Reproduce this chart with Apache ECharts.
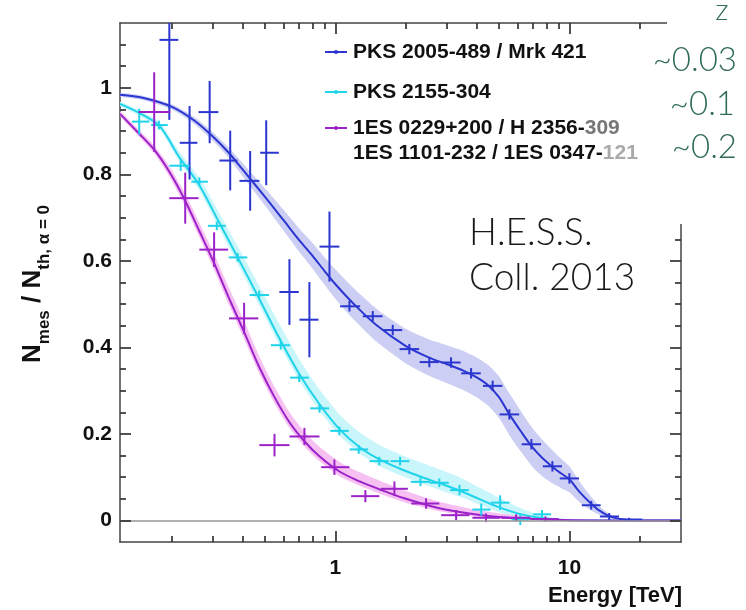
<!DOCTYPE html>
<html>
<head>
<meta charset="utf-8">
<script src="https://cdn.jsdelivr.net/npm/echarts@6/dist/echarts.min.js"></script>
<style>
  html, body { margin: 0; padding: 0; background: #fff; }
  #chart { width: 746px; height: 610px; }
</style>
</head>
<body>
<div id="chart"></div>
<script>
// axis ranges and ticks
const X_MIN = 0.12, X_MAX = 30;
const Y_MIN = -0.05, Y_MAX = 1.15;
const xMajor = [1, 10];
const xMinor = [0.2, 0.3, 0.4, 0.5, 0.6, 0.7, 0.8, 0.9, 2, 3, 4, 5, 6, 7, 8, 9, 20];
const yMajor = [0, 0.2, 0.4, 0.6, 0.8, 1];
const yMinor = [0.05, 0.1, 0.15, 0.25, 0.3, 0.35, 0.45, 0.5, 0.55, 0.65, 0.7, 0.75,
                0.85, 0.9, 0.95, 1.05, 1.1];

// measured points: [E, value, E low, E high, +/- error]
const blueObs = [
  [0.195, 1.111, 0.177, 0.213, 0.185],
  [0.238, 0.873, 0.216, 0.257, 0.085],
  [0.29, 0.944, 0.26, 0.316, 0.072],
  [0.355, 0.832, 0.319, 0.381, 0.069],
  [0.432, 0.785, 0.389, 0.473, 0.069],
  [0.506, 0.85, 0.477, 0.573, 0.075],
  [0.636, 0.528, 0.576, 0.697, 0.076],
  [0.774, 0.464, 0.702, 0.846, 0.087],
  [0.943, 0.633, 0.855, 1.04, 0.081],
  [1.148, 0.495, 1.047, 1.275, 0.012],
  [1.444, 0.472, 1.31, 1.59, 0.012],
  [1.758, 0.44, 1.6, 1.93, 0.012],
  [2.07, 0.396, 1.88, 2.28, 0.012],
  [2.52, 0.366, 2.29, 2.77, 0.012],
  [3.12, 0.365, 2.83, 3.43, 0.012],
  [3.8, 0.34, 3.45, 4.18, 0.012],
  [4.7, 0.311, 4.27, 5.17, 0.012],
  [5.54, 0.245, 5.03, 6.1, 0.012],
  [6.88, 0.176, 6.25, 7.57, 0.012],
  [8.46, 0.125, 7.7, 9.3, 0.012],
  [10.0, 0.097, 9.1, 11.0, 0.012],
  [12.4, 0.035, 11.3, 13.6, 0.01],
  [14.8, 0.009, 13.5, 16.3, 0.008],
  [18.0, 0.002, 16.3, 20.5, 0.004]
];
const cyanObs = [
  [0.145, 0.922, 0.135, 0.16, 0.03],
  [0.176, 0.914, 0.163, 0.192, 0.01],
  [0.218, 0.82, 0.195, 0.238, 0.012],
  [0.262, 0.783, 0.242, 0.285, 0.01],
  [0.311, 0.681, 0.285, 0.34, 0.01],
  [0.382, 0.608, 0.35, 0.42, 0.01],
  [0.472, 0.521, 0.43, 0.52, 0.01],
  [0.584, 0.405, 0.53, 0.64, 0.01],
  [0.70, 0.330, 0.64, 0.77, 0.01],
  [0.855, 0.259, 0.78, 0.94, 0.01],
  [1.04, 0.207, 0.95, 1.14, 0.01],
  [1.258, 0.164, 1.15, 1.38, 0.01],
  [1.54, 0.137, 1.40, 1.69, 0.01],
  [1.89, 0.137, 1.72, 2.07, 0.01],
  [2.31, 0.089, 2.1, 2.54, 0.01],
  [2.78, 0.087, 2.53, 3.05, 0.01],
  [3.39, 0.070, 3.09, 3.72, 0.012],
  [4.2, 0.025, 3.85, 4.6, 0.014],
  [5.06, 0.041, 4.62, 5.55, 0.017],
  [6.17, 0.002, 5.65, 6.75, 0.013],
  [7.64, 0.014, 7.0, 8.35, 0.01]
];
const purpleObs = [
  [0.168, 0.944, 0.144, 0.197, 0.092],
  [0.228, 0.745, 0.195, 0.26, 0.059],
  [0.303, 0.626, 0.262, 0.348, 0.04],
  [0.407, 0.467, 0.351, 0.468, 0.036],
  [0.549, 0.174, 0.473, 0.636, 0.026],
  [0.737, 0.194, 0.636, 0.855, 0.02],
  [0.99, 0.123, 0.869, 1.148, 0.018],
  [1.343, 0.056, 1.167, 1.54, 0.014],
  [1.787, 0.073, 1.567, 2.04, 0.017],
  [2.44, 0.039, 2.11, 2.78, 0.012],
  [3.28, 0.012, 2.83, 3.74, 0.012],
  [4.4, 0.006, 3.85, 5.05, 0.01],
  [5.92, 0.006, 5.12, 6.8, 0.008],
  [7.9, 0.003, 6.9, 9.0, 0.006]
];

// model curves: [E, value, band low, band high]
const blueFit = [
  [0.12, 0.984, 0.980, 0.988], [0.15, 0.977, 0.972, 0.982], [0.2, 0.956, 0.950, 0.962],
  [0.25, 0.924, 0.916, 0.932], [0.3, 0.887, 0.877, 0.897], [0.35, 0.85, 0.838, 0.862],
  [0.4, 0.812, 0.797, 0.827], [0.5, 0.748, 0.728, 0.768], [0.6, 0.694, 0.67, 0.718],
  [0.7, 0.648, 0.621, 0.675], [0.8, 0.611, 0.581, 0.641], [0.9, 0.576, 0.544, 0.608],
  [1.0, 0.546, 0.512, 0.58], [1.2, 0.5, 0.464, 0.536], [1.5, 0.451, 0.413, 0.489],
  [2.0, 0.403, 0.363, 0.443], [2.5, 0.377, 0.335, 0.419], [3.0, 0.361, 0.317, 0.405],
  [3.5, 0.347, 0.302, 0.392], [4.0, 0.331, 0.285, 0.377], [4.5, 0.312, 0.265, 0.359],
  [5.0, 0.285, 0.237, 0.333], [5.5, 0.248, 0.2, 0.296], [6.2, 0.206, 0.159, 0.253],
  [6.9, 0.171, 0.126, 0.216], [7.7, 0.143, 0.101, 0.185], [8.5, 0.123, 0.085, 0.161],
  [9.2, 0.109, 0.075, 0.143], [10, 0.095, 0.065, 0.125], [11, 0.067, 0.043, 0.091],
  [12.2, 0.042, 0.025, 0.059], [13.4, 0.023, 0.013, 0.033], [14.8, 0.010, 0.005, 0.015],
  [16.4, 0.0035, 0.0015, 0.0055], [18, 0.001, 0, 0.002], [20, 0, 0, 0.0005], [30, 0, 0, 0]
];
const cyanFit = [
  [0.12, 0.963, 0.958, 0.968], [0.145, 0.942, 0.936, 0.948], [0.177, 0.912, 0.904, 0.921],
  [0.215, 0.84, 0.83, 0.853], [0.262, 0.775, 0.763, 0.792], [0.319, 0.688, 0.674, 0.71],
  [0.389, 0.6, 0.585, 0.626], [0.473, 0.512, 0.497, 0.542], [0.576, 0.421, 0.406, 0.454],
  [0.702, 0.338, 0.323, 0.372], [0.854, 0.269, 0.254, 0.303], [1.04, 0.211, 0.196, 0.245],
  [1.27, 0.169, 0.154, 0.203], [1.54, 0.141, 0.126, 0.174], [1.88, 0.12, 0.105, 0.153],
  [2.29, 0.102, 0.087, 0.135], [2.78, 0.086, 0.071, 0.118], [3.39, 0.069, 0.055, 0.1],
  [4.13, 0.049, 0.036, 0.076], [5.02, 0.03, 0.019, 0.052], [6.11, 0.015, 0.008, 0.03],
  [7.44, 0.006, 0.002, 0.013], [9.07, 0.0016, 0, 0.004], [11, 0, 0, 0.001], [30, 0, 0, 0]
];
const purpleFit = [
  [0.12, 0.94, 0.935, 0.946], [0.145, 0.894, 0.887, 0.902], [0.168, 0.857, 0.848, 0.867],
  [0.195, 0.806, 0.795, 0.819], [0.226, 0.743, 0.73, 0.759], [0.262, 0.669, 0.655, 0.688],
  [0.304, 0.593, 0.578, 0.615], [0.352, 0.512, 0.496, 0.536], [0.409, 0.433, 0.417, 0.458],
  [0.473, 0.354, 0.339, 0.379], [0.549, 0.285, 0.271, 0.309], [0.636, 0.227, 0.214, 0.25],
  [0.737, 0.183, 0.171, 0.205], [0.854, 0.148, 0.137, 0.17], [1.04, 0.113, 0.102, 0.135],
  [1.27, 0.09, 0.08, 0.111], [1.54, 0.072, 0.062, 0.092], [1.97, 0.051, 0.042, 0.069],
  [2.78, 0.028, 0.021, 0.043], [3.93, 0.014, 0.009, 0.025], [5.54, 0.006, 0.003, 0.013],
  [8.21, 0.0016, 0, 0.005], [13.4, 0, 0, 0.001], [30, 0, 0, 0]
];

const sources = [
  {name: 'PKS 2005-489 / Mrk 421', obs: blueObs, fit: blueFit, line: '#2a36cf', band: '#c6c9f3'},
  {name: 'PKS 2155-304', obs: cyanObs, fit: cyanFit, line: '#1fd3ea', band: '#c3f5fa'},
  {name: '1ES 0229+200 / H 2356-309', obs: purpleObs, fit: purpleFit, line: '#9b22c8', band: '#f6b9f2'}
];

const GRID = {left: 120, top: 23, width: 561, height: 519};
const chart = echarts.init(document.getElementById('chart'), null, {renderer: 'canvas'});
const axisColor = '#444';
const labelFont = {color: '#111', fontSize: 21, fontWeight: 'bold', fontFamily: 'Liberation Sans'};

function xAx(pos, showLabel) {
  return {
    type: 'log', logBase: 10, min: X_MIN, max: X_MAX, position: pos,
    axisLine: {show: true, onZero: false, lineStyle: {color: axisColor, width: 1.5}},
    axisTick: {show: false},
    axisLabel: Object.assign({show: showLabel, customValues: xMajor, margin: 16}, labelFont),
    splitLine: {show: false}
  };
}
function yAx(pos, showLabel) {
  return {
    type: 'value', min: Y_MIN, max: Y_MAX, position: pos,
    axisLine: {show: true, onZero: false, lineStyle: {color: axisColor, width: 1.5}},
    axisTick: {show: false},
    axisLabel: Object.assign({show: showLabel, customValues: yMajor, margin: 8}, labelFont),
    splitLine: {show: false}
  };
}

// inside frame ticks as markLine segments (tick length converted from pixels to axis units)
const pxPerDecade = GRID.width / Math.log10(X_MAX / X_MIN);
const pxPerUnit = GRID.height / (Y_MAX - Y_MIN);
const tickSegs = [];
xMajor.map(function (v) { return [v, 11]; }).concat(xMinor.map(function (v) { return [v, 6]; }))
  .forEach(function (t) {
    const dy = t[1] / pxPerUnit;
    tickSegs.push([{coord: [t[0], Y_MIN]}, {coord: [t[0], Y_MIN + dy]}]);
    tickSegs.push([{coord: [t[0], Y_MAX]}, {coord: [t[0], Y_MAX - dy]}]);
  });
yMajor.map(function (v) { return [v, 11]; }).concat(yMinor.map(function (v) { return [v, 6]; }))
  .forEach(function (t) {
    const f = Math.pow(10, t[1] / pxPerDecade);
    tickSegs.push([{coord: [X_MIN, t[0]]}, {coord: [X_MIN * f, t[0]]}]);
    tickSegs.push([{coord: [X_MAX, t[0]]}, {coord: [X_MAX / f, t[0]]}]);
  });

const series = [];
sources.forEach(function (s, k) {
  // uncertainty band
  series.push({
    type: 'custom', name: s.name + ' band', z: 1, clip: true, silent: true,
    data: [[1, 0.5]],
    encode: {x: 0, y: 1},
    renderItem: function (params, api) {
      const pts = [];
      s.fit.forEach(function (r) { pts.push(api.coord([r[0], r[3]])); });
      s.fit.slice().reverse().forEach(function (r) { pts.push(api.coord([r[0], r[2]])); });
      return {type: 'polygon', shape: {points: pts, smooth: 0.2}, style: {fill: s.band, opacity: 0.9}};
    },
    markLine: k === 0 ? {
      silent: true, symbol: 'none', label: {show: false}, animation: false,
      lineStyle: {color: '#999', width: 1.5, type: 'solid'},
      data: [{yAxis: 0}]
    } : undefined
  });
});
sources.forEach(function (s, k) {
  series.push({
    type: 'line', name: s.name, z: 2, smooth: 0.3, showSymbol: false, silent: true,
    data: s.fit.map(function (r) { return [r[0], r[1]]; }),
    lineStyle: {color: s.line, width: 2},
    markLine: k === 2 ? {
      silent: true, symbol: 'none', label: {show: false}, animation: false,
      lineStyle: {color: '#333', width: 1.7, type: 'solid'},
      emphasis: {disabled: true},
      data: tickSegs
    } : undefined
  });
});
sources.forEach(function (s) {
  series.push({
    type: 'custom', name: s.name + ' points', z: 3, clip: true, silent: true,
    data: s.obs,
    encode: {x: 0, y: 1},
    renderItem: function (params, api) {
      const e = api.value(0), v = api.value(1), lo = api.value(2), hi = api.value(3), dv = api.value(4);
      const l = api.coord([lo, v]), r = api.coord([hi, v]);
      const t = api.coord([e, v + dv]), b = api.coord([e, v - dv]);
      const st = {stroke: s.line, lineWidth: 2};
      return {type: 'group', children: [
        {type: 'line', shape: {x1: l[0], y1: l[1], x2: r[0], y2: r[1]}, style: st},
        {type: 'line', shape: {x1: t[0], y1: t[1], x2: b[0], y2: b[1]}, style: st}
      ]};
    }
  });
});

// legend drawn as graphics
const legendRows = [
  {y: 52, color: sources[0].line, text: '{b|PKS 2005-489 / Mrk 421}'},
  {y: 92, color: sources[1].line, text: '{b|PKS 2155-304}'},
  {y: 128, color: sources[2].line, text: '{b|1ES 0229+200 / H 2356-}{g|309}'}
];
const legendRich = {
  b: {fontSize: 21, fontWeight: 'bold', fontFamily: 'Liberation Sans', fill: '#111'},
  g: {fontSize: 21, fontWeight: 'bold', fontFamily: 'Liberation Sans', fill: '#777'},
  l: {fontSize: 21, fontWeight: 'bold', fontFamily: 'Liberation Sans', fill: '#aaa'}
};
const graphics = [];
legendRows.forEach(function (r) {
  graphics.push({type: 'line', shape: {x1: 325, y1: r.y, x2: 347, y2: r.y}, style: {stroke: r.color, lineWidth: 2}, z: 10});
  graphics.push({type: 'circle', shape: {cx: 336, cy: r.y, r: 2}, style: {fill: r.color}, z: 10});
  graphics.push({type: 'text', x: 353, y: r.y, z: 10,
    style: {text: r.text, rich: legendRich, verticalAlign: 'middle', align: 'left'}});
});
graphics.push({type: 'text', x: 353, y: 153, z: 10,
  style: {text: '{b|1ES 1101-232 / 1ES 0347-}{l|121}', rich: legendRich, verticalAlign: 'middle', align: 'left'}});

// cover the upper part of the right frame (hidden behind the slide in the reference)
graphics.push({type: 'rect', shape: {x: 667, y: 0, width: 79, height: 224}, style: {fill: '#fff'}, z: 40});

// redshift notes
const zFont = {fontFamily: 'Lato', fontWeight: 300, fontSize: 33, fill: '#2f6b57'};
graphics.push({type: 'text', x: 722, y: 10, z: 41, style: Object.assign({}, zFont, {text: 'z', fontSize: 30, align: 'center', verticalAlign: 'middle'})});
graphics.push({type: 'text', x: 737, y: 60, z: 41, style: Object.assign({}, zFont, {text: '~0.03', align: 'right', verticalAlign: 'middle'})});
graphics.push({type: 'text', x: 735, y: 104, z: 41, style: Object.assign({}, zFont, {text: '~0.1', align: 'right', verticalAlign: 'middle'})});
graphics.push({type: 'text', x: 737, y: 147, z: 41, style: Object.assign({}, zFont, {text: '~0.2', align: 'right', verticalAlign: 'middle'})});

// collaboration note
graphics.push({type: 'text', x: 469, y: 211, z: 10,
  style: {text: 'H.E.S.S.\nColl. 2013', fontFamily: 'Lato', fontWeight: 300, fontSize: 37, lineHeight: 45,
          fill: '#1a1a1a', align: 'left', verticalAlign: 'top'}});

// axis titles
graphics.push({type: 'text', x: 33, y: 284, rotation: Math.PI / 2, z: 10,
  style: {
    text: '{n|N}{s|mes}{n| / N}{s|th, α = 0}', align: 'center', verticalAlign: 'middle',
    rich: {
      n: {fontSize: 26, fontWeight: 'bold', fontFamily: 'Liberation Sans', fill: '#111', lineHeight: 40, verticalAlign: 'middle'},
      s: {fontSize: 17, fontWeight: 'bold', fontFamily: 'Liberation Sans', fill: '#111', lineHeight: 40, verticalAlign: 'bottom'}
    }
  }});
graphics.push({type: 'text', x: 682, y: 596, z: 10,
  style: {text: 'Energy [TeV]', fontSize: 22, fontWeight: 'bold', fontFamily: 'Liberation Sans', fill: '#111',
          align: 'right', verticalAlign: 'middle'}});

chart.setOption({
  animation: false,
  backgroundColor: '#fff',
  grid: Object.assign({outerBoundsMode: 'none'}, GRID),
  xAxis: [xAx('bottom', true), xAx('top', false)],
  yAxis: [yAx('left', true), yAx('right', false)],
  series: series,
  graphic: graphics
});
</script>
</body>
</html>
